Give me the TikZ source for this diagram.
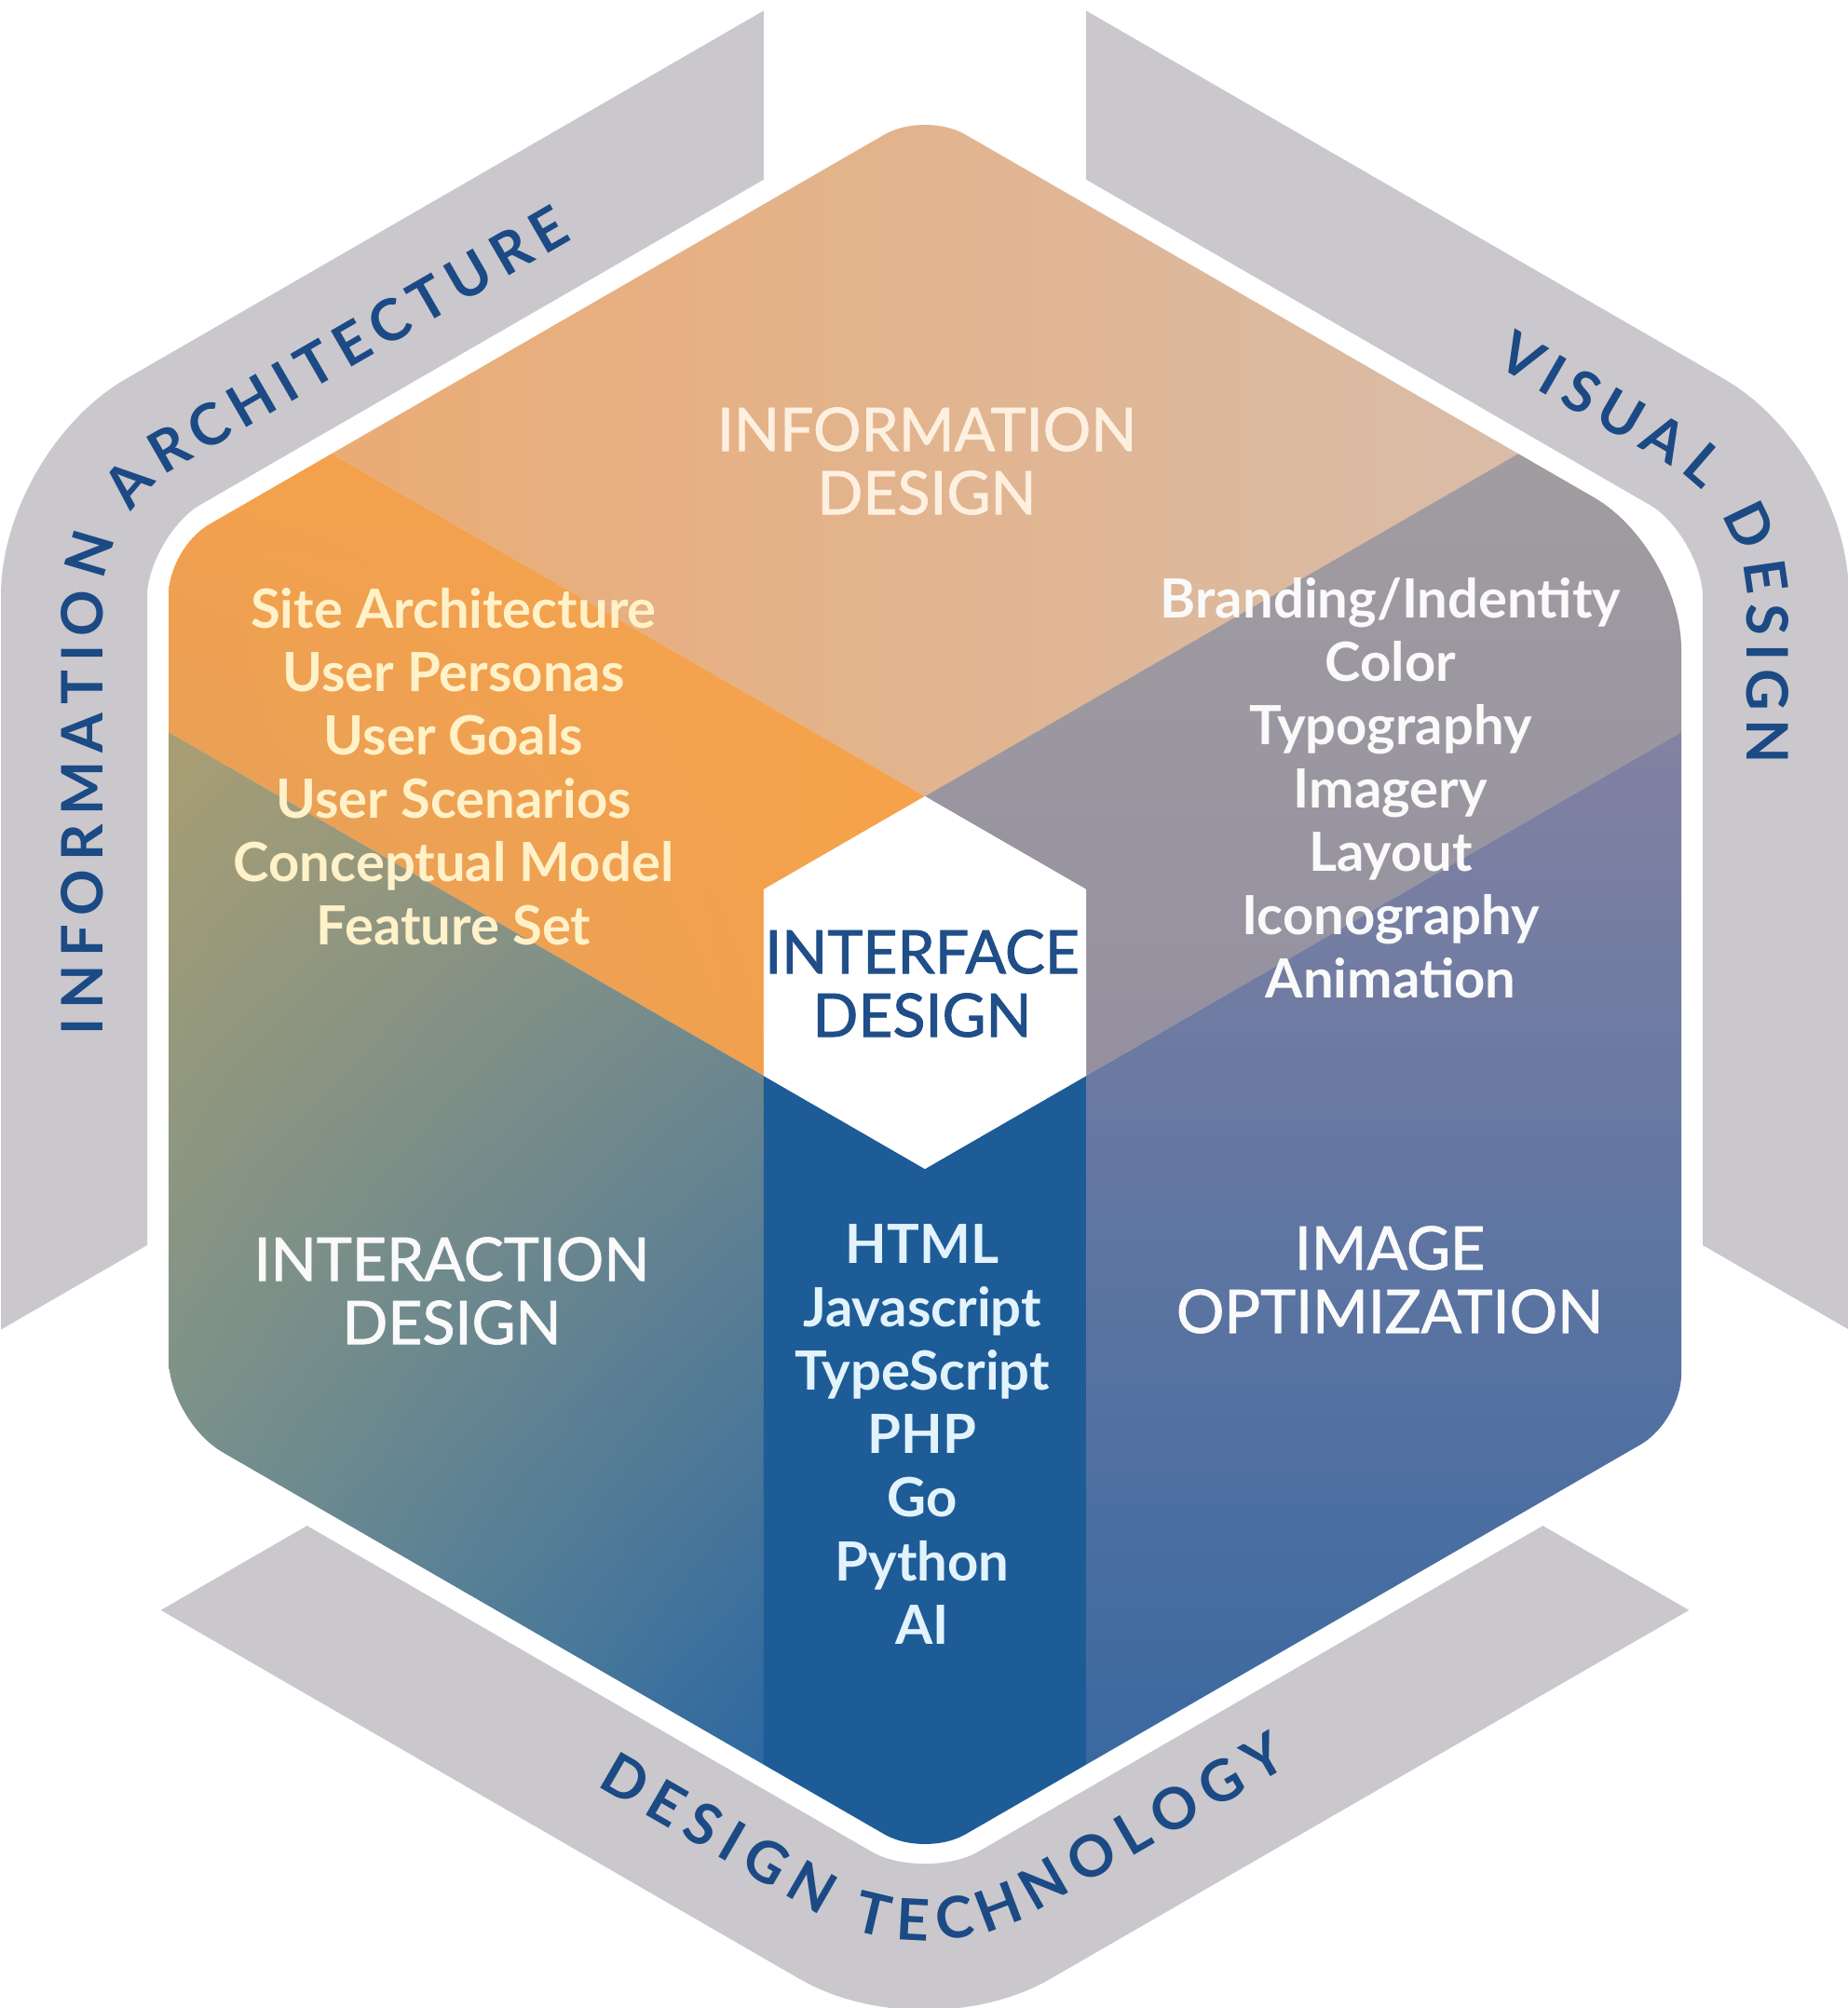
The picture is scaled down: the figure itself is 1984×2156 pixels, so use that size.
\documentclass[tikz,border=0pt]{standalone}
\usepackage{fontspec}
\setmainfont{Lato}
\newfontfamily\titlefont[FakeBold=1.4]{Lato}
\usetikzlibrary{decorations.text,shadings}
\definecolor{bandgray}{HTML}{CAC8CC}
\definecolor{bandtext}{HTML}{1B4A85}
\definecolor{stripblue}{HTML}{1E5C97}
\definecolor{ifacetext}{HTML}{1F4E88}
\definecolor{infotext}{HTML}{FDF0E0}
\definecolor{orangetext}{HTML}{FFF1C8}
\definecolor{htmltext}{HTML}{E2F3FC}
\definecolor{whitetext}{HTML}{FAFAFA}
\definecolor{topL}{RGB}{238,168,106}
\definecolor{topR}{RGB}{214,192,179}
\definecolor{orUL}{RGB}{247,160,70}
\definecolor{orUR}{RGB}{248,164,78}
\definecolor{orLL}{RGB}{221,160,100}
\definecolor{orLR}{RGB}{246,161,72}
\definecolor{grT}{RGB}{164,159,160}
\definecolor{grB}{RGB}{148,144,160}
\definecolor{ixUL}{RGB}{176,160,110}
\definecolor{ixUR}{RGB}{140,150,134}
\definecolor{ixLL}{RGB}{98,142,154}
\definecolor{ixLR}{RGB}{28,96,166}
\definecolor{ioT}{RGB}{134,131,162}
\definecolor{ioB}{RGB}{44,100,161}
\newcommand\bandfont{\fontsize{17.5}{17.5}\selectfont\bfseries}
\newcommand\mainhex{(181,1057) [rounded corners=5mm] -- (181,588.2) -- (993,119.4) [rounded corners=10.8mm] -- (1805,588.2) [rounded corners=5mm] -- (1805,1525.8) -- (993,1994.6) [rounded corners=6.7mm] -- (181,1525.8) [rounded corners=5mm] -- cycle}
\tikzset{
  listtext/.style={align=center, inner sep=0pt, font=\fontsize{16.5}{19.35}\selectfont\bfseries},
  titletext/.style={align=center, inner sep=0pt, font=\titlefont\fontsize{18.3}{19.35}\selectfont},
  bandletters/.style={decorate, decoration={text along path, text align=fit to path, text color=bandtext}},
}
\begin{document}
\begin{tikzpicture}[x=0.1mm,y=-0.1mm]
\useasboundingbox (0,0) rectangle (1984,2156);
\fill[white] (0,0) rectangle (1984,2156);
% outer band ring
\draw[bandgray, line width=15.7mm] (79.5,1057) [rounded corners=11mm] -- (79.5,529.6) -- (993,2.2) -- (1906.5,529.6) -- (1906.5,1584.4) -- (993,2111.8) [rounded corners=12.6mm] -- (79.5,1584.4) [rounded corners=11mm] -- cycle;
% gaps between bands
\fill[white] (819.8,-60) rectangle (1166.2,700);
\fill[white] (819.8,955) -- (993,1255) -- (-739,2255) -- (-912.2,1955) -- cycle;
\fill[white] (1166.2,955) -- (993,1255) -- (2725,2255) -- (2898.2,1955) -- cycle;
% main hexagon regions
\begin{scope}
\clip \mainhex;
\shade[left color=topL, right color=topR]
  (993,855) -- (100,339.4) -- (100,0) -- (1886,0) -- (1886,339.4) -- cycle;
\shade[upper left=orUL, upper right=orUR, lower left=orLL, lower right=orLR]
  (993,855) -- (100,339.4) -- (100,739.4) -- (819.8,1155) -- (819.8,955) -- cycle;
\shade[top color=grT, bottom color=grB]
  (993,855) -- (1886,339.4) -- (1886,739.4) -- (1166.2,1155) -- (1166.2,955) -- cycle;
\shade[upper left=ixUL, upper right=ixUR, lower left=ixLL, lower right=ixLR]
  (819.8,1155) -- (100,739.4) -- (100,2100) -- (819.8,2100) -- cycle;
\fill[stripblue] (819.8,1155) -- (993,1255) -- (1166.2,1155) -- (1166.2,2100) -- (819.8,2100) -- cycle;
\shade[top color=ioT, bottom color=ioB]
  (1166.2,1155) -- (1886,739.4) -- (1886,2100) -- (1166.2,2100) -- cycle;
\end{scope}
% centre hexagon
\fill[white] (993,855) -- (1166.2,955) -- (1166.2,1155) -- (993,1255) -- (819.8,1155) -- (819.8,955) -- cycle;
% texts
\node[titletext, text=infotext] (infod) at (995,495) {INFORMATION\\DESIGN};
\node[listtext, text=orangetext] (ialist) at (487,823) {Site Architecture\\User Personas\\User Goals\\User Scenarios\\Conceptual Model\\Feature Set};
\node[listtext, text=whitetext] (vdlist) at (1493,846) {Branding/Indentity\\Color\\Typography\\Imagery\\Layout\\Iconography\\Animation};
\node[titletext, text=ifacetext] (iface) at (990,1056) {INTERFACE\\DESIGN};
\node[titletext, text=whitetext] (ixd) at (485,1386) {INTERACTION\\DESIGN};
\node[listtext, text=htmltext] (dtlist) at (990,1540) {HTML\\Javascript\\TypeScript\\PHP\\Go\\Python\\AI};
\node[titletext, text=whitetext] (imgopt) at (1492,1374) {IMAGE\\OPTIMIZATION};
% band labels
\path[bandletters, decoration={text={|\bandfont|INFORMATION ARCHITECTURE}}]
  (111,1111) [rounded corners=9.1mm] -- (111,547.8) -- (615,256.8);
\path[bandletters, decoration={text={|\bandfont|VISUAL DESIGN}}]
  (1604,391.4) [rounded corners=9.1mm] -- (1875,547.8) -- (1875,820);
\path[bandletters, decoration={text={|\bandfont|DESIGN TECHNOLOGY}}]
  (640,1917.8) [rounded corners=13mm] -- (993,2121.6) -- (1385,1895.3);
\end{tikzpicture}
\end{document}
